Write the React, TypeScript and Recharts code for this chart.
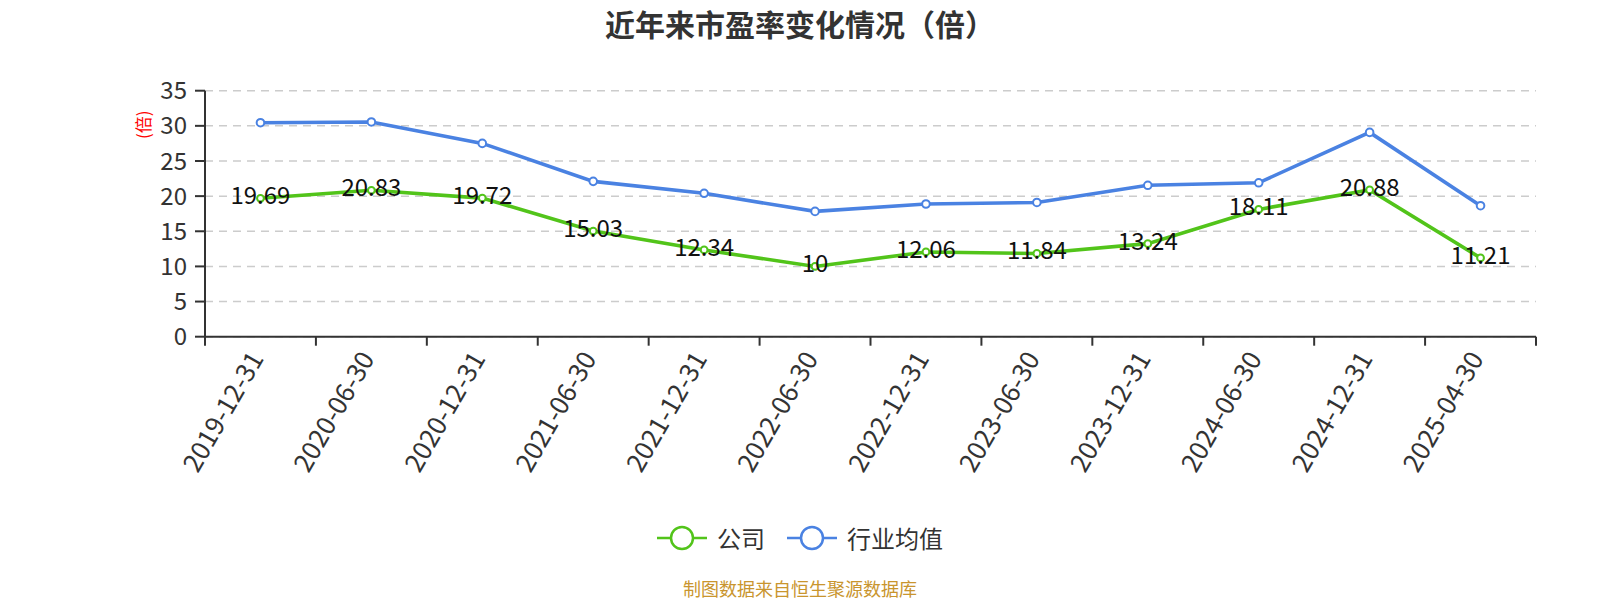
import { LineChart, Line, XAxis, YAxis, CartesianGrid, LabelList } from 'recharts'

const categories = [
  '2019-12-31', '2020-06-30', '2020-12-31', '2021-06-30', '2021-12-31', '2022-06-30',
  '2022-12-31', '2023-06-30', '2023-12-31', '2024-06-30', '2024-12-31', '2025-04-30',
]
const companyPE = [19.69, 20.83, 19.72, 15.03, 12.34, 10, 12.06, 11.84, 13.24, 18.11, 20.88, 11.21]
const industryPE = [30.45, 30.55, 27.5, 22.1, 20.4, 17.83, 18.88, 19.1, 21.54, 21.9, 29.07, 18.64]
const yTicks = [0, 5, 10, 15, 20, 25, 30, 35]

const seriesNames = ['公司', '行业均值']
const seriesColors = ['#52c41a', '#4a82e2']

const FONT = '"Noto Sans CJK SC", "Noto Sans", sans-serif'

const data = categories.map((date, i) => ({
  idx: i,
  date,
  company: companyPE[i],
  industry: industryPE[i],
}))

// tick marks sit on the category boundaries, labels on the centres
const boundaries = [...categories.map((_, i) => i - 0.5), categories.length - 0.5]
const centres = categories.map((_, i) => i)

const DateTick = ({ x, y, payload }: any) => {
  const ax = x - 6
  return (
    <text
      x={ax}
      y={y}
      transform={`rotate(-60 ${ax} ${y})`}
      textAnchor="end"
      dominantBaseline="central"
      fontSize={26}
      fill="#333"
      fontFamily={FONT}
    >
      {categories[payload.value]}
    </text>
  )
}

const ValueLabel = ({ x, y, value }: any) => (
  <text x={x} y={y} dy={6} textAnchor="middle" fontSize={24} fill="#111" fontFamily={FONT}>
    {value}
  </text>
)

const UnitLabel = ({ viewBox }: any) => {
  const lx = viewBox.x - 2
  const ly = viewBox.y + 34
  return (
    <text
      x={lx}
      y={ly}
      transform={`rotate(-90 ${lx} ${ly})`}
      textAnchor="middle"
      dominantBaseline="central"
      fontSize={17}
      fill="#ff0000"
      fontFamily={FONT}
    >
      (倍)
    </text>
  )
}

function LegendIcon({ color }: { color: string }) {
  return (
    <svg width={50} height={26}>
      <line x1={0} y1={13} x2={50} y2={13} stroke={color} strokeWidth={2.5} />
      <circle cx={25} cy={13} r={11} fill="#fff" stroke={color} strokeWidth={2.5} />
    </svg>
  )
}

export default function App() {
  return (
    <div style={{ position: 'absolute', left: 0, top: 0, width: 1600, height: 600, fontFamily: FONT, background: '#fff' }}>
      <div
        style={{
          position: 'absolute', top: 3, left: 0, width: 1600, textAlign: 'center',
          fontSize: 30, fontWeight: 'bold', color: '#333', lineHeight: '40px',
        }}
      >
        近年来市盈率变化情况（倍）
      </div>

      <LineChart
        width={1600}
        height={600}
        data={data}
        margin={{ top: 90.7, right: 64, left: 145, bottom: 113.3 }}
      >
        <CartesianGrid
          xAxisId="main"
          vertical={false}
          stroke="#ccc"
          strokeWidth={1.5}
          strokeDasharray="8 6"
        />
        <XAxis
          xAxisId="bounds"
          type="number"
          dataKey="idx"
          domain={[-0.5, categories.length - 0.5]}
          ticks={boundaries}
          interval={0}
          tickFormatter={() => ''}
          tickSize={9}
          height={1}
          stroke="#333"
          strokeWidth={2}
        />
        <XAxis
          xAxisId="main"
          type="number"
          dataKey="idx"
          domain={[-0.5, categories.length - 0.5]}
          ticks={centres}
          interval={0}
          axisLine={false}
          tickLine={false}
          tickSize={0}
          tickMargin={15}
          height={149}
          tick={<DateTick />}
        />
        <YAxis
          domain={[0, 35]}
          ticks={yTicks}
          interval={0}
          width={60}
          stroke="#333"
          strokeWidth={2}
          tickSize={10}
          tickMargin={8}
          tick={{ fontSize: 24, fill: '#333', fontFamily: FONT }}
          label={<UnitLabel />}
        />
        <Line
          xAxisId="main"
          type="linear"
          dataKey="industry"
          name={seriesNames[1]}
          stroke={seriesColors[1]}
          strokeWidth={3.6}
          dot={{ r: 3.8, fill: '#fff', stroke: seriesColors[1], strokeWidth: 2 }}
          isAnimationActive={false}
        />
        <Line
          xAxisId="main"
          type="linear"
          dataKey="company"
          name={seriesNames[0]}
          stroke={seriesColors[0]}
          strokeWidth={3.6}
          dot={{ r: 3.4, fill: '#fff', stroke: seriesColors[0], strokeWidth: 2 }}
          isAnimationActive={false}
        >
          <LabelList dataKey="company" content={<ValueLabel />} />
        </Line>
      </LineChart>

      <div
        style={{
          position: 'absolute', top: 524, left: 0, width: 1600, display: 'flex',
          justifyContent: 'center', alignItems: 'center', gap: 22,
        }}
      >
        {seriesNames.map((name, i) => (
          <div key={name} style={{ display: 'flex', alignItems: 'center', gap: 10 }}>
            <LegendIcon color={seriesColors[i]} />
            <span style={{ fontSize: 24, color: '#333', lineHeight: '28px' }}>{name}</span>
          </div>
        ))}
      </div>

      <div
        style={{
          position: 'absolute', top: 576, left: 0, width: 1600, textAlign: 'center',
          fontSize: 18, color: '#c9952e', lineHeight: '24px',
        }}
      >
        制图数据来自恒生聚源数据库
      </div>
    </div>
  )
}
